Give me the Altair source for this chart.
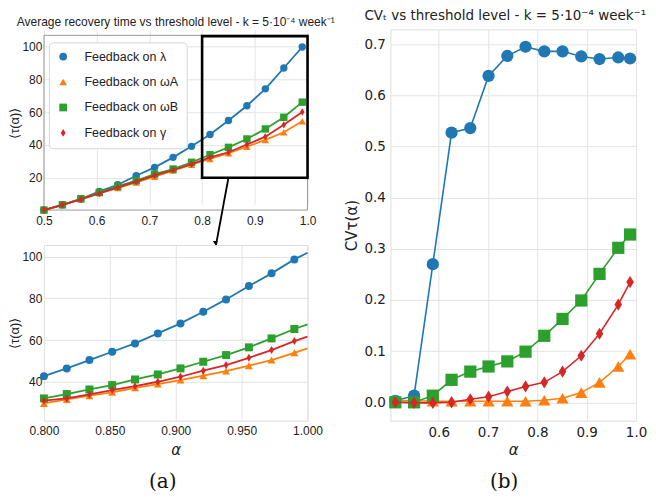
import altair as alt
import pandas as pd

NARROW = "Liberation Sans"
SANS = "DejaVu Sans"
SERIF = "DejaVu Serif"

series_names = ["Feedback on λ", "Feedback on ωA", "Feedback on ωB", "Feedback on γ"]
colors = ["#1f77b4", "#ff7f0e", "#2ca02c", "#d62728"]
thin_diamond = "M0,-1L0.62,0L0,1L-0.62,0Z"
shapes = ["circle", "triangle-up", "square", thin_diamond]

# ---- panel (a) top: full range ----
top_x = [0.5, 0.535, 0.57, 0.605, 0.64, 0.675, 0.71, 0.745, 0.78, 0.815, 0.85, 0.885, 0.92, 0.955, 0.99]
top_lambda = [0.3, 3.5, 7.0, 11.7, 15.7, 21.2, 26.3, 32.4, 39.1, 46.3, 54.8, 63.8, 74.1, 86.8, 99.6]
top_omegaA = [0.3, 3.5, 7.0, 10.6, 13.7, 17.1, 20.6, 24.3, 27.9, 31.4, 34.9, 38.9, 43.0, 47.7, 54.4]
top_omegaB = [0.3, 3.5, 7.2, 11.0, 14.7, 18.2, 22.2, 25.3, 29.4, 34.0, 38.5, 43.6, 49.7, 56.8, 66.0]
top_gamma = [0.3, 3.5, 6.8, 10.4, 14.1, 17.6, 21.4, 24.7, 28.3, 32.4, 35.5, 40.2, 45.0, 52.2, 60.0]
top_xdom = [0.5, 1.0]
top_ydom = [0.3, 106.7]

# ---- panel (a) bottom: zoom ----
bot_x = [0.8, 0.8173, 0.8345, 0.8518, 0.8691, 0.8864, 0.9036, 0.9209, 0.9382, 0.9555, 0.9727, 0.99]
bot_lambda = [42.7, 46.4, 50.4, 54.4, 58.4, 63.2, 68.0, 73.6, 79.5, 85.9, 92.0, 98.7]
bot_omegaA = [29.6, 31.5, 33.3, 34.9, 37.1, 38.9, 40.8, 42.9, 45.1, 47.7, 50.4, 53.9]
bot_omegaB = [32.0, 34.1, 36.3, 38.4, 41.1, 43.5, 46.4, 49.6, 52.8, 56.5, 60.8, 65.3]
bot_gamma = [30.9, 32.0, 33.9, 36.0, 37.9, 40.0, 42.4, 45.3, 48.0, 51.5, 55.2, 59.5]
bot_line_end_x = 1.0
bot_line_end = [101.9, 56.0, 67.5, 61.6]

# ---- panel (b): CV ----
cv_x = [0.512, 0.550, 0.588, 0.626, 0.664, 0.701, 0.739, 0.776, 0.814, 0.851, 0.889, 0.926, 0.964, 0.988]
cv_lambda = [0.003, 0.013, 0.27, 0.527, 0.536, 0.638, 0.677, 0.695, 0.686, 0.686, 0.676, 0.671, 0.674, 0.672]
cv_omegaA = [0.004, 0.003, 0.002, 0.002, 0.002, 0.002, 0.002, 0.002, 0.004, 0.008, 0.019, 0.039, 0.07, 0.094]
cv_omegaB = [0.0, 0.0, 0.013, 0.044, 0.06, 0.07, 0.08, 0.099, 0.13, 0.163, 0.199, 0.251, 0.302, 0.328]
cv_gamma = [0.0, -0.001, -0.001, 0.0, 0.006, 0.011, 0.021, 0.031, 0.039, 0.06, 0.091, 0.134, 0.191, 0.235]

panel_labels = ["(a)", "(b)"]

# zoom box and connector (data coordinates)
box = pd.DataFrame({"x": [0.8], "x2": [1.0], "y": [20.0], "y2": [106.2]})
connector = pd.DataFrame({"x": [0.85], "y": [20.0], "x2": [0.826], "y2": [-21.6]})
arrow_tip = pd.DataFrame({"x": [0.930], "y": [106.6]})
top_frame = pd.DataFrame({"x": [top_xdom[0]], "x2": [top_xdom[1]], "y": [top_ydom[0]], "y2": [top_ydom[1]]})

GRID = "#e3e3e3"
FRAME = "#9a9a9a"


def axis(font, size, values, fmt, title=None, tfont=None, tsize=14, italic=False, tpad=4, lpad=5):
    kw = dict(values=values, format=fmt, labelFont=font, labelFontSize=size, labelColor="#222",
              ticks=False, labelPadding=lpad, grid=True, gridColor=GRID, domain=False,
              labelFlush=False, labelOverlap=False)
    if title is not None:
        kw.update(title=title, titleFont=tfont or font, titleFontSize=tsize, titleFontWeight="normal",
                  titleColor="#222", titlePadding=tpad)
        if italic:
            kw.update(titleFontStyle="italic")
    else:
        kw.update(title=None)
    return alt.Axis(**kw)


def series_layers(x_enc, y_enc, pts_x, pts_ys, line_xs, line_ys, size, lw, legend):
    layers = []
    for i, name in enumerate(series_names):
        dl = pd.DataFrame({"x": line_xs[i], "y": line_ys[i]})
        layers.append(alt.Chart(dl).mark_line(color=colors[i], strokeWidth=lw).encode(x=x_enc, y=y_enc))
        dp = pd.DataFrame({"x": pts_x, "y": pts_ys[i], "series": name})
        layers.append(
            alt.Chart(dp).mark_point(filled=True, opacity=1, size=size, strokeWidth=0).encode(
                x=x_enc, y=y_enc,
                color=alt.Color("series:N", scale=alt.Scale(domain=series_names, range=colors), legend=legend),
                shape=alt.Shape("series:N", scale=alt.Scale(domain=series_names, range=shapes), legend=legend),
            )
        )
    return layers


def panel_label(text, px, py):
    return alt.Chart(pd.DataFrame({"t": [text]})).mark_text(
        font=SERIF, fontSize=20, color="#111", baseline="middle", align="center"
    ).encode(text="t:N", x=alt.value(px), y=alt.value(py))


IND = dict(color="independent", shape="independent")

# ---------- top left ----------
# the plot area sits 6px below the chart origin so that panel (b) can start higher
TOP_H = 181
TOP_SHIFT = 6
tx = alt.X("x:Q", scale=alt.Scale(domain=top_xdom, nice=False, zero=False),
           axis=axis(NARROW, 12, [0.5, 0.6, 0.7, 0.8, 0.9, 1.0], ".1f"))
ty = alt.Y("y:Q", scale=alt.Scale(domain=top_ydom, nice=False, zero=False, range=[TOP_H, TOP_SHIFT]),
           axis=axis(NARROW, 12, [20, 40, 60, 80, 100], "d", "⟨τ(α)⟩", NARROW, 13, False, 0, 2))
legend = alt.Legend(title=None, orient="none", legendX=5, legendY=7 + TOP_SHIFT, fillColor="white",
                    strokeColor="#d6d6d6", cornerRadius=4, padding=8, labelFont=NARROW,
                    labelFontSize=12.5, labelColor="#222", symbolSize=60, rowPadding=12.5, labelOffset=15,
                    symbolStrokeWidth=0, symbolOpacity=1)
top_series = [top_lambda, top_omegaA, top_omegaB, top_gamma]
top_layers = series_layers(tx, ty, top_x, top_series, [top_x] * 4, top_series, 55, 1.8, legend)
frame_layer = alt.Chart(top_frame).mark_rect(fillOpacity=0, stroke=FRAME, strokeWidth=1).encode(
    x="x:Q", x2="x2:Q", y="y:Q", y2="y2:Q")
box_layer = alt.Chart(box).mark_rect(fillOpacity=0, stroke="black", strokeWidth=2.6).encode(
    x="x:Q", x2="x2:Q", y="y:Q", y2="y2:Q")
conn_layer = alt.Chart(connector).mark_rule(color="black", strokeWidth=1.8).encode(
    x="x:Q", y="y:Q", x2="x2:Q", y2="y2:Q")
top_chart = alt.layer(frame_layer, *top_layers, box_layer, conn_layer).properties(
    width=264, height=TOP_H,
    view=alt.ViewBackground(strokeOpacity=0),
    title=alt.TitleParams("Average recovery time vs threshold level - k = 5·10⁻⁴ week⁻¹",
                          font=NARROW, fontSize=12, fontWeight="normal", color="#222", offset=0),
)

# ---------- bottom left ----------
bx = alt.X("x:Q", scale=alt.Scale(domain=[0.8, 1.0], nice=False, zero=False),
           axis=axis(NARROW, 12, [0.8, 0.825, 0.85, 0.875, 0.9, 0.925, 0.95, 0.975, 1.0], ".3f",
                     "α", SANS, 15, True, 6))
by = alt.Y("y:Q", scale=alt.Scale(domain=[21.3, 105.6], nice=False, zero=False),
           axis=axis(NARROW, 12, [40, 60, 80, 100], "d", "⟨τ(α)⟩", NARROW, 13, False, 0, 2))
bot_series = [bot_lambda, bot_omegaA, bot_omegaB, bot_gamma]
bot_lines_x = [bot_x + [bot_line_end_x]] * 4
bot_lines_y = [s + [e] for s, e in zip(bot_series, bot_line_end)]
bot_layers = series_layers(bx, by, bot_x, bot_series, bot_lines_x, bot_lines_y, 64, 1.8, None)
arrow_layer = alt.Chart(arrow_tip).mark_point(shape="triangle-down", filled=True, color="black",
                                              opacity=1, size=22).encode(x="x:Q", y="y:Q")
bot_chart = alt.layer(*bot_layers, arrow_layer, panel_label(panel_labels[0], 119, 237)).properties(
    width=264, height=176)

left_col = alt.vconcat(top_chart, bot_chart, spacing=35, bounds="flush").resolve_legend(**IND)

# ---------- right ----------
rx = alt.X("x:Q", scale=alt.Scale(domain=[0.502, 1.0], nice=False, zero=False),
           axis=axis(SANS, 13.5, [0.6, 0.7, 0.8, 0.9, 1.0], ".1f", "α", SANS, 15, True, 3))
ry = alt.Y("y:Q", scale=alt.Scale(domain=[-0.036, 0.729], nice=False, zero=False),
           axis=axis(SANS, 13.5, [0, 0.1, 0.2, 0.3, 0.4, 0.5, 0.6, 0.7], ".1f", "CVτ(α)", SANS, 15))
cv_series = [cv_lambda, cv_omegaA, cv_omegaB, cv_gamma]
r_layers = series_layers(rx, ry, cv_x, cv_series, [cv_x] * 4, cv_series, 150, 1.6, None)
right_chart = alt.layer(*r_layers, panel_label(panel_labels[1], 114, 453)).properties(
    width=246, height=392,
    title=alt.TitleParams("CVₜ vs threshold level - k = 5·10⁻⁴ week⁻¹", font=SANS, fontSize=13.5,
                          fontWeight="normal", color="#222", offset=7, dx=-8),
)

chart = alt.hconcat(left_col, right_chart, spacing=9).resolve_legend(**IND).properties(
    padding=0
).configure_view(stroke=FRAME, strokeWidth=1).configure(background="white")

chart.save("out.html", embed_options={"renderer": "svg", "actions": False})
